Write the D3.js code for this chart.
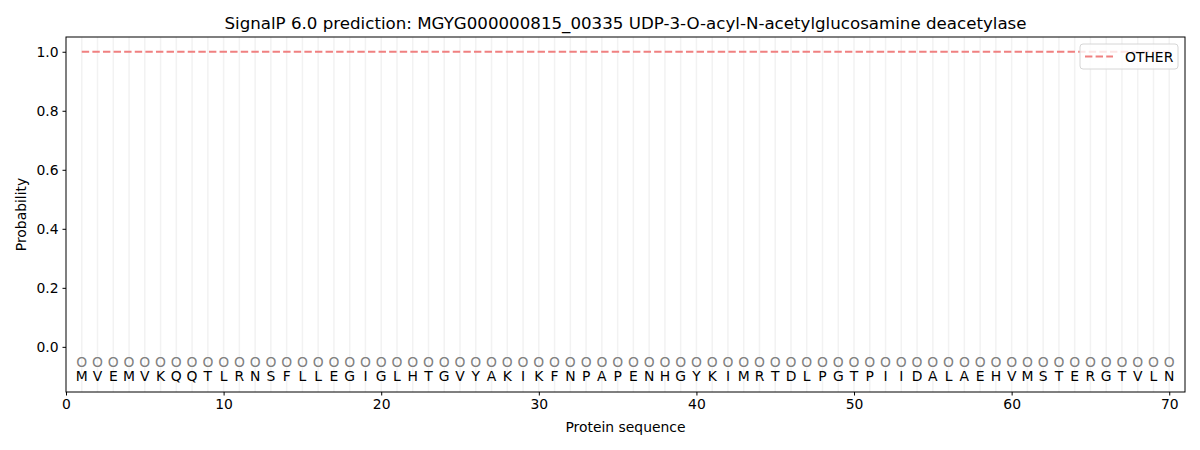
<!DOCTYPE html>
<html>
<head>
<meta charset="utf-8">
<script src="https://cdn.jsdelivr.net/npm/d3@7"></script>
<style>
  body { margin: 0; background: #fff; font-family: "DejaVu Sans", sans-serif; }
  svg text { font-family: "DejaVu Sans", sans-serif; }
</style>
</head>
<body>
<div id="chart"></div>
<script>
// Sequence residues (position 1..70)
const SEQUENCE = "MVEMVKQQTLRNSFLLEGIGLHTGVYAKIKFNPAPENHGYKIMRTDLPGTPIIDALAEHVMSTERGTVLN".split("");
// Predicted label per residue
const LABELS = SEQUENCE.map(() => "O");
// OTHER probability per residue
const OTHER_PROB = SEQUENCE.map(() => 1.0);

const X_TICKS = [0, 10, 20, 30, 40, 50, 60, 70];
const Y_TICKS = [0.0, 0.2, 0.4, 0.6, 0.8, 1.0];

const width = 1200, height = 450;
const margin = { top: 37, right: 15, bottom: 58, left: 66 };
const FS = 13.9;

const svg = d3.select("#chart").append("svg")
  .attr("width", width)
  .attr("height", height);

const x = d3.scaleLinear()
  .domain([0, 71])
  .range([margin.left, width - margin.right]);

const y = d3.scaleLinear()
  .domain([-0.153, 1.05])
  .range([height - margin.bottom, margin.top]);

// vertical grid at each residue
svg.append("g")
  .selectAll("line")
  .data(SEQUENCE)
  .join("line")
  .attr("x1", (d, i) => x(i + 1))
  .attr("x2", (d, i) => x(i + 1))
  .attr("y1", y.range()[0])
  .attr("y2", y.range()[1])
  .attr("stroke", "#f2f2f2")
  .attr("stroke-width", 1.5);

// OTHER line
const line = d3.line()
  .x((d, i) => x(i + 1))
  .y(d => y(d));

svg.append("path")
  .attr("d", line(OTHER_PROB))
  .attr("fill", "none")
  .attr("stroke", "#f08080")
  .attr("stroke-width", 2)
  .attr("stroke-dasharray", "7.4,3.2");

// label markers
svg.append("g")
  .selectAll("text")
  .data(LABELS)
  .join("text")
  .attr("x", (d, i) => x(i + 1))
  .attr("y", y(-0.05))
  .attr("dy", "0.36em")
  .attr("text-anchor", "middle")
  .attr("font-size", FS)
  .attr("fill", "#808080")
  .text(d => d);

// residue letters
svg.append("g")
  .selectAll("text")
  .data(SEQUENCE)
  .join("text")
  .attr("x", (d, i) => x(i + 1))
  .attr("y", y(-0.1))
  .attr("dy", "0.36em")
  .attr("text-anchor", "middle")
  .attr("font-size", FS)
  .attr("fill", "#000")
  .text(d => d);

// axes
const xAxis = svg.append("g")
  .attr("transform", `translate(0,${height - margin.bottom})`)
  .call(d3.axisBottom(x).tickValues(X_TICKS).tickFormat(d3.format("d")).tickSizeOuter(0).tickSize(3.5).tickPadding(4));

const yAxis = svg.append("g")
  .attr("transform", `translate(${margin.left},0)`)
  .call(d3.axisLeft(y).tickValues(Y_TICKS).tickFormat(d3.format(".1f")).tickSizeOuter(0).tickSize(3.5).tickPadding(4));

[xAxis, yAxis].forEach(g => {
  g.selectAll("text").attr("font-size", FS).attr("fill", "#000").style("font-family", "DejaVu Sans");
  g.selectAll("line").attr("stroke", "#000");
  g.select(".domain").remove();
});

// frame
svg.append("rect")
  .attr("x", margin.left)
  .attr("y", margin.top)
  .attr("width", width - margin.left - margin.right)
  .attr("height", height - margin.top - margin.bottom)
  .attr("fill", "none")
  .attr("stroke", "#000")
  .attr("stroke-width", 1);

// title and axis labels
svg.append("text")
  .attr("x", (margin.left + width - margin.right) / 2)
  .attr("y", 29)
  .attr("text-anchor", "middle")
  .attr("font-size", 16.67)
  .text("SignalP 6.0 prediction: MGYG000000815_00335 UDP-3-O-acyl-N-acetylglucosamine deacetylase");

svg.append("text")
  .attr("x", (margin.left + width - margin.right) / 2)
  .attr("y", 432)
  .attr("text-anchor", "middle")
  .attr("font-size", FS)
  .text("Protein sequence");

svg.append("text")
  .attr("transform", `translate(26,${(margin.top + height - margin.bottom) / 2}) rotate(-90)`)
  .attr("text-anchor", "middle")
  .attr("font-size", FS)
  .text("Probability");

// legend
const lg = svg.append("g").attr("transform", "translate(1080,44)");
lg.append("rect")
  .attr("width", 98)
  .attr("height", 25)
  .attr("rx", 3)
  .attr("fill", "#fff")
  .attr("fill-opacity", 0.8)
  .attr("stroke", "#d6d6d6");
lg.append("line")
  .attr("x1", 5).attr("x2", 33)
  .attr("y1", 12.5).attr("y2", 12.5)
  .attr("stroke", "#f08080")
  .attr("stroke-width", 2)
  .attr("stroke-dasharray", "7.4,3.2");
lg.append("text")
  .attr("x", 45)
  .attr("y", 12.5)
  .attr("dy", "0.36em")
  .attr("font-size", FS)
  .text("OTHER");
</script>
</body>
</html>
